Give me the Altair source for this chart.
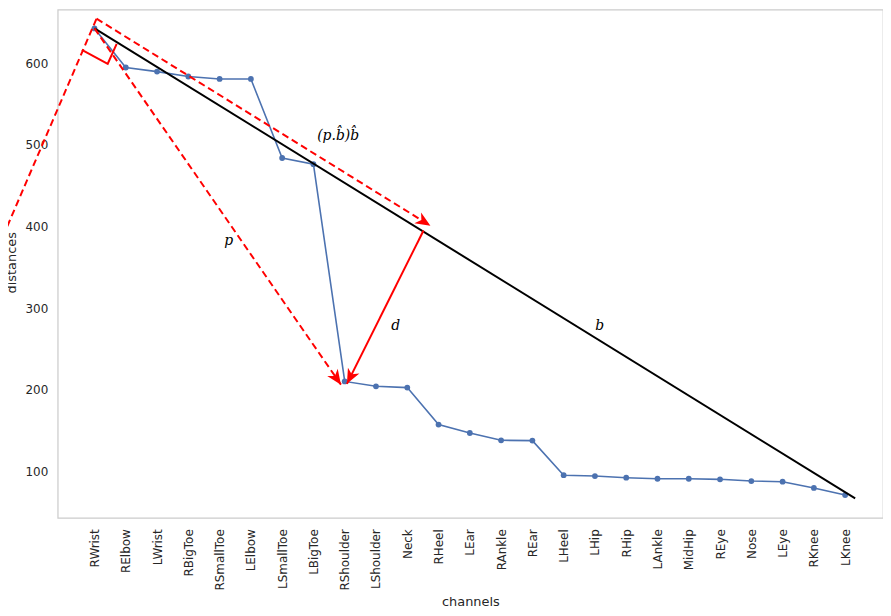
import altair as alt
import pandas as pd

channels = ["RWrist", "RElbow", "LWrist", "RBigToe", "RSmallToe", "LElbow", "LSmallToe",
            "LBigToe", "RShoulder", "LShoulder", "Neck", "RHeel", "LEar", "RAnkle", "REar",
            "LHeel", "LHip", "RHip", "LAnkle", "MidHip", "REye", "Nose", "LEye", "RKnee", "LKnee"]
distances = [643, 595, 590, 584, 581, 581, 484, 476.5, 210, 204, 202.4, 157, 146.7, 137.8,
             137.4, 95, 93.9, 91.9, 90.6, 90.6, 89.9, 87.8, 87, 79.3, 70.7]

# baseline vector b (black line), in data units (x = channel index)
b_x = [0, 24.32]
b_y = [643, 66.5]

# annotation geometry (data units)
dash_seg = [0, 0, 1, 1, 2, 2]
dash_x = [-3.34, 0.064, 0.064, 10.74, 0, 7.88]
dash_y = [351, 654.9, 654.9, 401, 643, 206]

solid_seg = [0, 0, 0, 1, 1]
solid_x = [-0.404, 0.423, 0.709, 10.52, 8.07]
solid_y = [616.7, 599.6, 624.0, 395.1, 207]

head_x = [10.74, 7.88, 8.07]
head_y = [401, 206, 207]
head_angle = [121.8, 145.3, 206.9]

label_text = ["(p.b\u0302)b\u0302", "p", "d", "b"]
label_x = [7.79, 4.29, 9.63, 16.15]
label_y = [511, 381.7, 278, 278]

df = pd.DataFrame({"x": list(range(len(channels))), "channel": channels, "y": distances})
df_b = pd.DataFrame({"x": b_x, "y": b_y})
df_dash = pd.DataFrame({"seg": dash_seg, "x": dash_x, "y": dash_y, "o": list(range(len(dash_x)))})
df_solid = pd.DataFrame({"seg": solid_seg, "x": solid_x, "y": solid_y, "o": list(range(len(solid_x)))})
df_head = pd.DataFrame({"x": head_x, "y": head_y, "a": head_angle})
df_lab = pd.DataFrame({"t": label_text, "x": label_x, "y": label_y})

label_expr = "[" + ",".join("'%s'" % c for c in channels) + "][datum.value]"

xs = alt.Scale(domain=[-1.176, 25.21], nice=False, zero=False)
ys = alt.Scale(domain=[42.7, 665.9], nice=False, zero=False)

x_axis = alt.Axis(values=list(range(len(channels))), labelExpr=label_expr,
                  labelAngle=270, labelPadding=11, labelOverlap=False,
                  labelBound=False, labelFlush=False, titlePadding=5)
y_axis = alt.Axis(values=[100, 200, 300, 400, 500, 600], labelPadding=10,
                  titleX=-46, titleY=254, titleAngle=270, titleAlign="center",
                  titleBaseline="middle")


def ax():
    return alt.X("x:Q", scale=xs, axis=x_axis, title="channels")


def ay():
    return alt.Y("y:Q", scale=ys, axis=y_axis, title="distances")


blue = "#4c72b0"
line = alt.Chart(df).mark_line(color=blue, strokeWidth=1.6).encode(x=ax(), y=ay())
pts = alt.Chart(df).mark_point(color=blue, filled=True, size=34, opacity=1).encode(x=ax(), y=ay())

bl = alt.Chart(df_b).mark_line(color="black", strokeWidth=2).encode(x=ax(), y=ay())

dash = alt.Chart(df_dash).mark_line(color="red", strokeWidth=2, strokeDash=[7, 4]).encode(
    x=ax(), y=ay(), detail="seg:N", order="o:Q")
solid = alt.Chart(df_solid).mark_line(color="red", strokeWidth=2).encode(
    x=ax(), y=ay(), detail="seg:N", order="o:Q")

arrow_path = "M0,0 L0.6,1.4 L0,1.0 L-0.6,1.4 Z"
heads = alt.Chart(df_head).mark_point(shape=arrow_path, filled=True, color="red", size=460,
                                      opacity=1).encode(
    x=ax(), y=ay(), angle=alt.Angle("a:Q", scale=None))

labels = alt.Chart(df_lab).mark_text(font="DejaVu Serif", fontStyle="italic", fontSize=14,
                                     color="black").encode(
    x=ax(), y=ay(), text="t:N")

chart = alt.layer(line, pts, bl, dash, solid, heads, labels).properties(
    width=830, height=511,
    autosize=alt.AutoSizeParams(type="none"),
    padding={"left": 50, "top": 0, "right": 0, "bottom": 93},
).configure_view(stroke="#cccccc", strokeWidth=1.25).configure_axis(
    domain=False, ticks=False, grid=False,
    labelFont="DejaVu Sans", labelFontSize=12, labelColor="#262626",
    titleFont="DejaVu Sans", titleFontSize=13, titleFontWeight="normal", titleColor="#262626",
).configure_axisX(labelOverlap=False)

chart.save("out.html", embed_options={"renderer": "svg", "actions": False})
